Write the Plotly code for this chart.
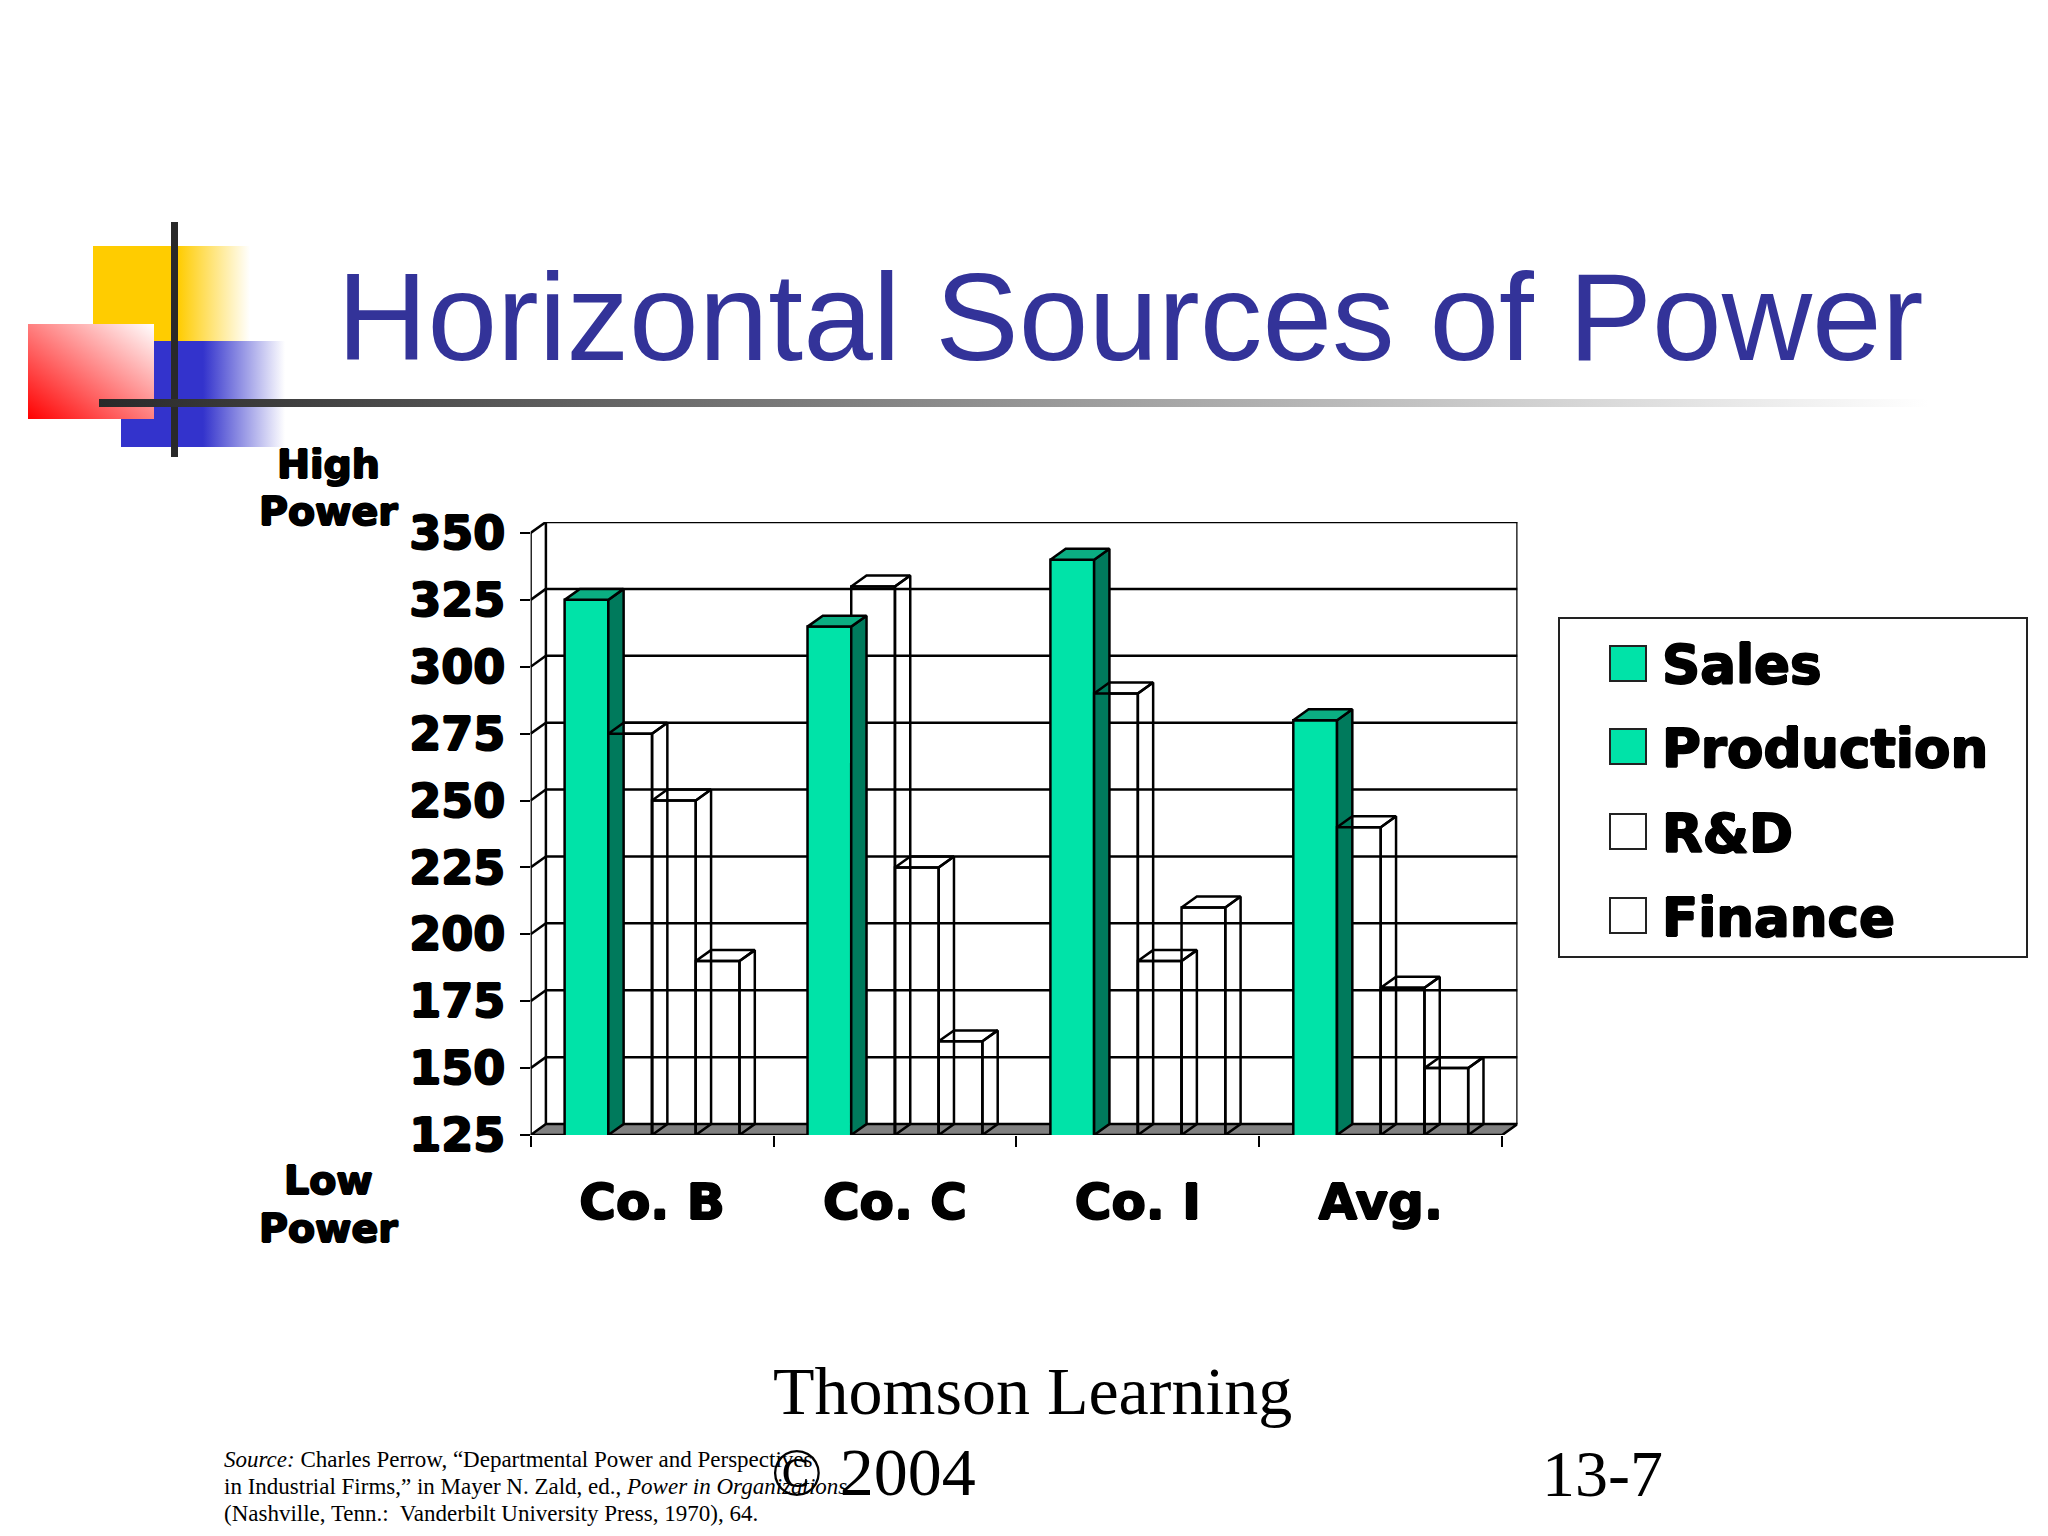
import base64
import plotly.graph_objects as go

W, H = 2048, 1536
categories = ["Co. B", "Co. C", "Co. I", "Avg."]
sales = [325, 315, 340, 280]
production = [275, 330, 290, 240]
rnd = [250, 225, 190, 180]
finance = [190, 160, 210, 150]
series_names = ["Sales", "Production", "R&D", "Finance"]
y_ticks = [125, 150, 175, 200, 225, 250, 275, 300, 325, 350]
legend_colors = ["#00E3A8", "#00E3A8", "#FFFFFF", "#FFFFFF"]
source_lines = [
    "<i>Source:</i> Charles Perrow, “Departmental Power and Perspectives",
    "in Industrial Firms,” in Mayer N. Zald, ed., <i>Power in Organizations</i>",
    "(Nashville, Tenn.:\u00a0 Vanderbilt University Press, 1970), 64.",
]

GREEN, SIDE, TOP = "#00E3A8", "#007A5C", "#0BAE82"
HEAVY = "DejaVu Sans"
SHADOW = "1px 0 0 #000, -1px 0 0 #000, 0 1px 0 #000, 0 -1px 0 #000"
BARGAP = 0.28
DX, DY = 0.063, 4.1
BASE = 125
LW = 2.5
bar_w = (1 - BARGAP) / 4
centers = [i + 0.5 for i in range(len(categories))]


def px(x):
    return x / W


def py(y):
    return 1 - y / H


svg = f'''<svg xmlns="http://www.w3.org/2000/svg" width="{W}" height="{H}" viewBox="0 0 {W} {H}">
<defs>
<linearGradient id="y"><stop offset="0.54" stop-color="#FFCC00"/><stop offset="1" stop-color="#FFFFFF"/></linearGradient>
<linearGradient id="b"><stop offset="0.5" stop-color="#3333CC"/><stop offset="1" stop-color="#FFFFFF"/></linearGradient>
<linearGradient id="r" x1="0" y1="1" x2="1" y2="0"><stop offset="0" stop-color="#FF0000"/><stop offset="1" stop-color="#FFFFFF"/></linearGradient>
<linearGradient id="k"><stop offset="0" stop-color="#292929"/><stop offset="1" stop-color="#FFFFFF"/></linearGradient>
</defs>
<rect x="93" y="246" width="157" height="95" fill="url(#y)"/>
<rect x="121" y="341" width="164" height="106" fill="url(#b)"/>
<rect x="28" y="324" width="126" height="95" fill="url(#r)"/>
<rect x="171" y="222" width="7" height="235" fill="#292929"/>
<rect x="99" y="399" width="1830" height="8" fill="url(#k)"/>
</svg>'''
logo_uri = "data:image/svg+xml;base64," + base64.b64encode(svg.encode()).decode()

fig = go.Figure()
values = [sales, production, rnd, finance]
for name, vals, color in zip(series_names, values, [GREEN, "rgba(0,0,0,0)", "rgba(0,0,0,0)", "rgba(0,0,0,0)"]):
    fig.add_bar(x=centers, y=vals, name=name, marker=dict(color=color, line=dict(color="black", width=LW)),
                showlegend=False)


def faces(vals, j):
    side_x, side_y, top_x, top_y = [], [], [], []
    for c, v in zip(centers, vals):
        xl = c - 2 * bar_w + j * bar_w
        xr = xl + bar_w
        side_x += [xr, xr + DX, xr + DX, xr, xr, None]
        side_y += [BASE, BASE + DY, v + DY, v, BASE, None]
        top_x += [xl, xl + DX, xr + DX, xr, xl, None]
        top_y += [v, v + DY, v + DY, v, v, None]
    return side_x, side_y, top_x, top_y


for j, (name, vals) in enumerate(zip(series_names, values)):
    sx, sy, tx, ty = faces(vals, j)
    line = dict(color="black", width=LW)
    if j == 0:
        fig.add_scatter(x=sx, y=sy, mode="lines", fill="toself", fillcolor=SIDE, line=line,
                        showlegend=False, hoverinfo="skip", name=name + " side")
        fig.add_scatter(x=tx, y=ty, mode="lines", fill="toself", fillcolor=TOP, line=line,
                        showlegend=False, hoverinfo="skip", name=name + " top")
    else:
        fig.add_scatter(x=sx + tx, y=sy + ty, mode="lines", line=line,
                        showlegend=False, hoverinfo="skip", name=name + " depth")

n = len(categories)
line_black = dict(color="black", width=LW)
shapes = [
    dict(type="path", xref="x", yref="y", layer="below", fillcolor="#808080", line=line_black,
         path=f"M 0 {BASE} L {DX} {BASE + DY} L {n + DX} {BASE + DY} L {n} {BASE} Z"),
    dict(type="line", xref="x", yref="y", layer="below", x0=0, x1=0, y0=BASE, y1=y_ticks[-1], line=line_black),
    dict(type="line", xref="x", yref="y", layer="below", x0=DX, x1=DX, y0=BASE + DY, y1=y_ticks[-1] + DY, line=line_black),
    dict(type="line", xref="x", yref="y", layer="below", x0=n + DX, x1=n + DX, y0=BASE + DY, y1=y_ticks[-1] + DY, line=line_black),
]
for v in y_ticks[1:]:
    shapes.append(dict(type="line", xref="x", yref="y", layer="below", x0=DX, x1=n + DX, y0=v + DY, y1=v + DY, line=line_black))
    shapes.append(dict(type="line", xref="x", yref="y", layer="below", x0=0, x1=DX, y0=v, y1=v + DY, line=line_black))

shapes.append(dict(type="rect", xref="paper", yref="paper", x0=px(1559), x1=px(2027), y0=py(957), y1=py(618),
                   line=dict(color="#222222", width=2), fillcolor="white"))
legend_tops = [646, 729, 814, 898]
for top, col in zip(legend_tops, legend_colors):
    shapes.append(dict(type="rect", xref="paper", yref="paper", x0=px(1610), x1=px(1646), y0=py(top + 35), y1=py(top),
                       line=dict(color="#222222", width=2), fillcolor=col))

anns = []


def note(text, x, y, size, family, color="black", anchor="left", **fontkw):
    anns.append(dict(text=text, x=px(x), y=py(y), xref="paper", yref="paper", xanchor=anchor, yanchor="middle",
                     showarrow=False, borderpad=0, font=dict(size=size, family=family, color=color, **fontkw)))


note("Horizontal Sources of Power", 336, 317, 125.2, "Liberation Sans", "#333399")
note("Thomson Learning", 772, 1391, 68, "Liberation Serif")
note("© 2004", 770, 1472, 68, "Liberation Serif")
note("13-7", 1541, 1473, 66, "Liberation Serif")
for line_text, y in zip(source_lines, [1459, 1486, 1513]):
    note(line_text, 223, y, 23, "Liberation Serif")
for word, y in zip(["High", "Power", "Low", "Power"], [464, 511, 1180, 1228]):
    note(f"<b>{word}</b>", 328, y, 39.5, HEAVY, anchor="center", shadow=SHADOW)
for name, top in zip(series_names, legend_tops):
    note(f"<b>{name}</b>", 1661, top + 19, 53, HEAVY, shadow=SHADOW)

fig.update_layout(
    width=W, height=H, margin=dict(l=0, r=0, t=0, b=0, pad=0, autoexpand=False),
    paper_bgcolor="white", plot_bgcolor="rgba(0,0,0,0)",
    barmode="group", bargap=BARGAP, bargroupgap=0, showlegend=False,
    shapes=shapes, annotations=anns,
    images=[dict(source=logo_uri, xref="paper", yref="paper", x=0, y=1, sizex=1, sizey=1,
                 xanchor="left", yanchor="top", sizing="stretch", layer="below")],
    xaxis=dict(domain=[px(530.6), px(1517.5)], range=[0, n + DX], showgrid=False, zeroline=False, showline=False,
               tickmode="array", tickvals=centers, ticktext=[f"<b>{c}</b>" for c in categories], ticks="",
               ticklabelstandoff=33,
               minor=dict(tickmode="array", tickvals=list(range(n + 1)), ticks="outside", ticklen=11, tickwidth=2, tickcolor="black"),
               tickfont=dict(size=50, family=HEAVY, color="black", shadow=SHADOW)),
    yaxis=dict(domain=[py(1135), py(522)], range=[BASE, y_ticks[-1] + DY], showgrid=False, zeroline=False, showline=False,
               tickmode="array", tickvals=y_ticks, ticktext=[f"<b>{t}</b>" for t in y_ticks],
               ticks="outside", ticklen=10, tickwidth=2, tickcolor="black", ticklabelstandoff=5,
               tickfont=dict(size=46, family=HEAVY, color="black", shadow=SHADOW)),
)
fig.write_html("out.html", post_script="document.body.style.margin='0';", config={"displayModeBar": False})
